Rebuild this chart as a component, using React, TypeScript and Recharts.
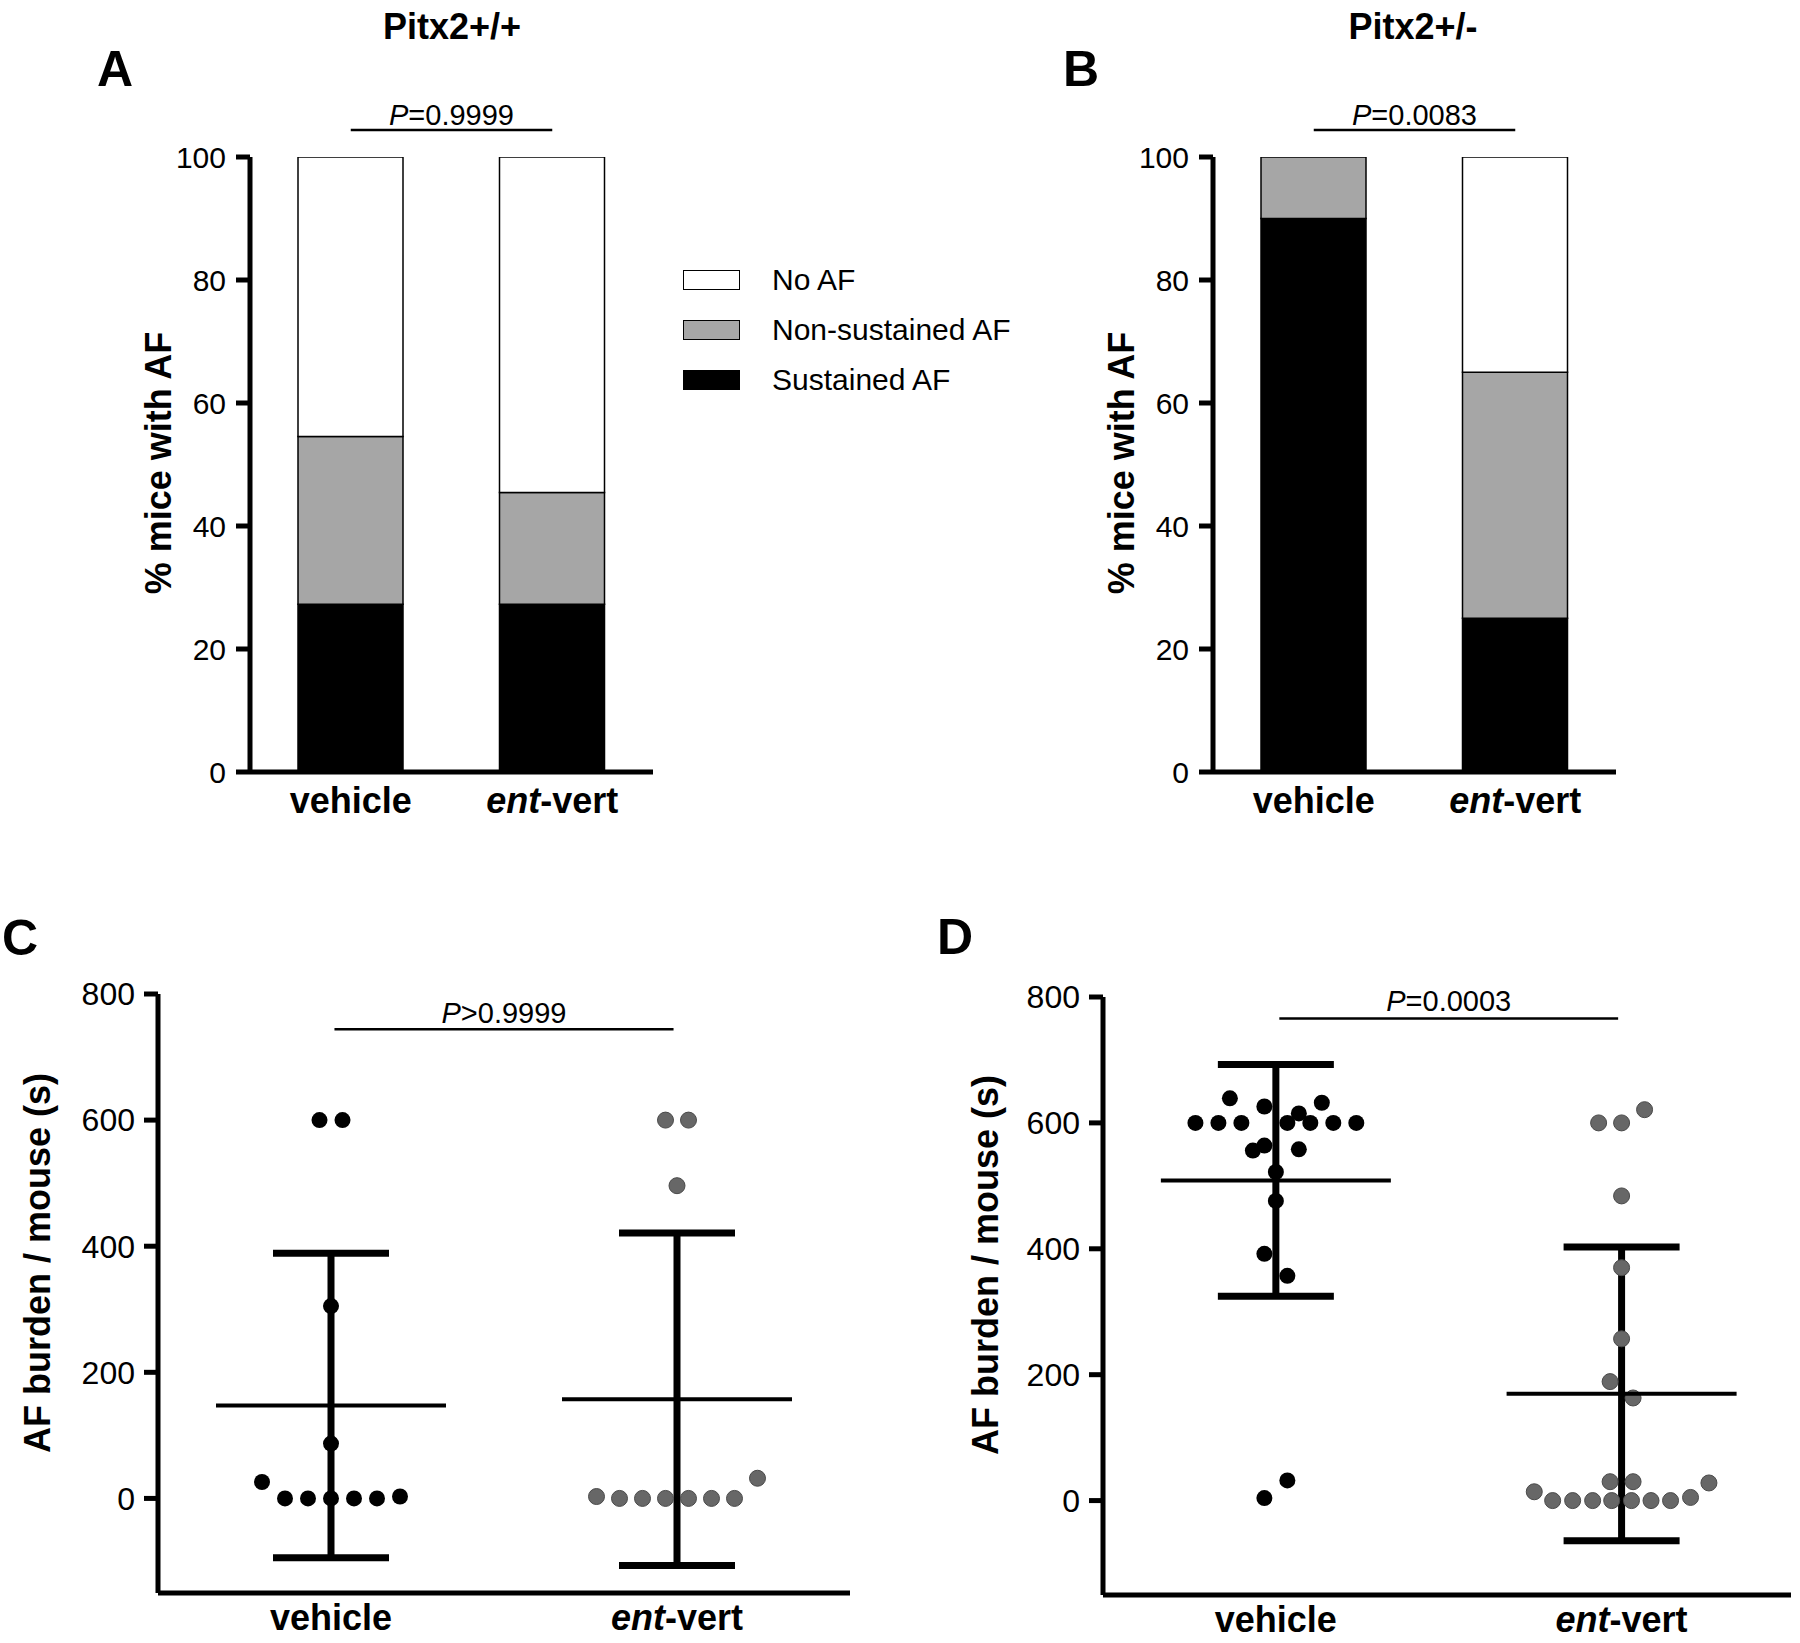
import React from "react";
import {
  BarChart,
  Bar,
  XAxis,
  YAxis,
  Legend,
  ReferenceLine,
  ScatterChart,
  Scatter,
  ErrorBar,
} from "recharts";

const FONT = '"Liberation Sans", Arial, Helvetica, sans-serif';

// categories
const groups = ["vehicle", "ent-vert"];
const groupItalic = ["", "ent"];
const groupRest = ["vehicle", "-vert"];

// A / B — % mice with AF, per category (bottom to top of the stack)
const afKeys = ["sustained", "nonSustained", "noAF"];
const afNames = ["Sustained AF", "Non-sustained AF", "No AF"];
const afColors = ["#000000", "#a6a6a6", "#ffffff"];

const sustainedWT = [27.27, 27.27];
const nonSustainedWT = [27.27, 18.18];
const noAfWT = [45.46, 54.55];

const sustainedHet = [90, 25];
const nonSustainedHet = [10, 40];
const noAfHet = [0, 35];

const pctTicks = [0, 20, 40, 60, 80, 100];
const burdenTicks = [0, 200, 400, 600, 800];

// C — Pitx2+/+ AF burden (s) and column-scatter slot of each dot
const wtVehicle = [600, 600, 305, 87, 26, 0, 0, 0, 0, 0, 3];
const wtVehicleSlot = [-0.5, 0.5, 0, 0, -3, -2, -1, 0, 1, 2, 3];
const wtEnt = [600, 600, 496, 3, 0, 0, 0, 0, 0, 0, 32];
const wtEntSlot = [-0.5, 0.5, 0, -3.5, -2.5, -1.5, -0.5, 0.5, 1.5, 2.5, 3.5];

// D — Pitx2+/- AF burden (s)
const hetVehicle = [639, 626, 632, 600, 600, 600, 600, 600, 600, 600, 615, 556, 564, 558, 522, 476, 392, 357, 32, 4];
const hetVehicleSlot = [-2, -0.5, 2, -3.5, -2.5, -1.5, 0.5, 1.5, 2.5, 3.5, 1, -1, -0.5, 1, 0, 0, -0.5, 0.5, 0.5, -0.5];
const hetEnt = [600, 600, 621, 484, 370, 257, 189, 163, 30, 30, 28, 14, 5, 0, 0, 0, 0, 0, 0, 0];
const hetEntSlot = [-1, 0, 1, 0, 0, 0, -0.5, 0.5, -0.5, 0.5, 3.8, -3.8, 3, -3, -2.13, -1.26, -0.43, 0.43, 1.28, 2.13];

const STEP = 23 / 346; // one dot slot in x-axis units
const DOT_R = 8;
const MEAN_HALF = 115;

const mean = (v: number[]) => v.reduce((a, b) => a + b, 0) / v.length;
const sd = (v: number[]) => {
  const m = mean(v);
  return Math.sqrt(v.reduce((a, b) => a + (b - m) ** 2, 0) / (v.length - 1));
};

const stackRows = (s: number[], n: number[], no: number[]) =>
  groups.map((g, i) => ({ group: g, sustained: s[i], nonSustained: n[i], noAF: no[i] }));

const dotRows = (vals: number[], slots: number[], g: number) =>
  vals.map((v, i) => ({ x: g + slots[i] * STEP, y: v }));

const summaryRows = (a: number[], b: number[]) =>
  [a, b].map((v, i) => ({ x: i, y: mean(v), err: sd(v) }));

const axisStyle = { stroke: "#000", strokeWidth: 5 };

function GroupTick(props: any) {
  const { x, y, payload, dy } = props;
  const idx = typeof payload.value === "number" ? payload.value : groups.indexOf(payload.value);
  return (
    <text x={x} y={y + dy} textAnchor="middle" fontFamily={FONT} fontSize={36} fontWeight="bold" fill="#000">
      {groupItalic[idx] ? <tspan fontStyle="italic">{groupItalic[idx]}</tspan> : null}
      {groupRest[idx]}
    </text>
  );
}

const pLabel = (text: string, gap: number) => (props: any) => {
  const vb = props.viewBox;
  return (
    <text x={vb.x + vb.width / 2} y={vb.y - gap} textAnchor="middle" fontFamily={FONT} fontSize={29} fill="#000">
      <tspan fontStyle="italic">P</tspan>
      {text}
    </text>
  );
};

function AfLegend() {
  const order = [2, 1, 0];
  return (
    <div style={{ fontFamily: FONT, width: 360 }}>
      {order.map((i) => (
        <div key={afKeys[i]} style={{ display: "flex", alignItems: "center", height: 50, whiteSpace: "nowrap" }}>
          <div
            style={{
              width: 57,
              height: 20,
              flex: "0 0 57px",
              boxSizing: "border-box",
              border: "1.5px solid #000",
              background: afColors[i],
            }}
          />
          <span style={{ marginLeft: 32, fontSize: 30, lineHeight: "30px", color: "#000" }}>{afNames[i]}</span>
        </div>
      ))}
    </div>
  );
}

function StackedPanel({ rows, margin, pText, showLegend }: any) {
  return (
    <BarChart width={900} height={860} data={rows} margin={margin}>
      <XAxis
        dataKey="group"
        height={60}
        axisLine={axisStyle}
        tickLine={false}
        tickSize={0}
        tickMargin={0}
        interval={0}
        tick={(p: any) => <GroupTick {...p} dy={41} />}
      />
      <YAxis
        width={100}
        domain={[0, 100]}
        ticks={pctTicks}
        allowDataOverflow
        axisLine={axisStyle}
        tickLine={axisStyle}
        tickSize={14}
        tickMargin={10}
        tick={{ fill: "#000", fontSize: 30, fontFamily: FONT }}
      />
      {afKeys.map((k, i) => (
        <Bar
          key={k}
          dataKey={k}
          stackId="af"
          fill={afColors[i]}
          stroke="#000"
          strokeWidth={1.5}
          barSize={105}
          isAnimationActive={false}
        />
      ))}
      <ReferenceLine
        segment={[
          { x: groups[0], y: 104.4 },
          { x: groups[1], y: 104.4 },
        ]}
        stroke="#000"
        strokeWidth={2.5}
        ifOverflow="visible"
        label={pLabel(pText, 5)}
      />
      {showLegend && (
        <Legend
          layout="vertical"
          align="center"
          verticalAlign="middle"
          wrapperStyle={{ left: 683, top: 255, width: 360 }}
          content={() => <AfLegend />}
        />
      )}
    </BarChart>
  );
}

function BurdenPanel({ a, aSlot, b, bSlot, margin, xMax, pText, pY, pGap }: any) {
  return (
    <ScatterChart width={900} height={763} margin={margin}>
      <XAxis
        type="number"
        dataKey="x"
        domain={[-0.5, xMax]}
        ticks={[0, 1]}
        allowDataOverflow
        height={45}
        axisLine={axisStyle}
        tickLine={false}
        tickSize={0}
        tickMargin={0}
        interval={0}
        tick={(p: any) => <GroupTick {...p} dy={37} />}
      />
      <YAxis
        type="number"
        dataKey="y"
        width={80}
        domain={[-150, 800]}
        ticks={burdenTicks}
        allowDataOverflow
        axisLine={axisStyle}
        tickLine={axisStyle}
        tickSize={14}
        tickMargin={9}
        tick={{ fill: "#000", fontSize: 32, fontFamily: FONT }}
      />
      <Scatter
        data={dotRows(a, aSlot, 0)}
        isAnimationActive={false}
        shape={(p: any) => <circle cx={p.cx} cy={p.cy} r={DOT_R} fill="#000" />}
      />
      <Scatter
        data={dotRows(b, bSlot, 1)}
        isAnimationActive={false}
        shape={(p: any) => <circle cx={p.cx} cy={p.cy} r={DOT_R} fill="#676767" stroke="#4a4a4a" strokeWidth={1} />}
      />
      <Scatter
        data={summaryRows(a, b)}
        isAnimationActive={false}
        shape={(p: any) => (
          <line x1={p.cx - MEAN_HALF} x2={p.cx + MEAN_HALF} y1={p.cy} y2={p.cy} stroke="#000" strokeWidth={4} />
        )}
      >
        <ErrorBar dataKey="err" direction="y" width={58} stroke="#000" strokeWidth={7} isAnimationActive={false} />
      </Scatter>
      <ReferenceLine
        segment={[
          { x: 0.01, y: pY },
          { x: 0.99, y: pY },
        ]}
        stroke="#000"
        strokeWidth={2.5}
        ifOverflow="visible"
        label={pLabel(pText, pGap)}
      />
    </ScatterChart>
  );
}

export default function App() {
  const bold = { fontFamily: FONT, fontWeight: "bold" as const, fill: "#000" };
  return (
    <div style={{ position: "absolute", left: 0, top: 0, width: 1800, height: 1643, background: "#fff" }}>
      <div style={{ position: "absolute", left: 0, top: 0 }}>
        <StackedPanel
          rows={stackRows(sustainedWT, nonSustainedWT, noAfWT)}
          margin={{ top: 157, left: 150, right: 247, bottom: 28 }}
          pText="=0.9999"
          showLegend
        />
      </div>
      <div style={{ position: "absolute", left: 900, top: 0 }}>
        <StackedPanel
          rows={stackRows(sustainedHet, nonSustainedHet, noAfHet)}
          margin={{ top: 157, left: 213, right: 184, bottom: 28 }}
          pText="=0.0083"
        />
      </div>
      <div style={{ position: "absolute", left: 0, top: 880 }}>
        <BurdenPanel
          a={wtVehicle}
          aSlot={wtVehicleSlot}
          b={wtEnt}
          bSlot={wtEntSlot}
          margin={{ top: 114, left: 78, right: 50, bottom: 5 }}
          xMax={1.5}
          pText=">0.9999"
          pY={744}
          pGap={6}
        />
      </div>
      <div style={{ position: "absolute", left: 900, top: 880 }}>
        <BurdenPanel
          a={hetVehicle}
          aSlot={hetVehicleSlot}
          b={hetEnt}
          bSlot={hetEntSlot}
          margin={{ top: 117, left: 123, right: 9, bottom: 3 }}
          xMax={1.49}
          pText="=0.0003"
          pY={766}
          pGap={7}
        />
      </div>
      <svg
        width={1800}
        height={1643}
        style={{ position: "absolute", left: 0, top: 0, pointerEvents: "none" }}
      >
        <text x={97} y={86} fontSize={50} {...bold}>A</text>
        <text x={1063} y={86} fontSize={50} {...bold}>B</text>
        <text x={2} y={955} fontSize={50} {...bold}>C</text>
        <text x={937} y={954} fontSize={50} {...bold}>D</text>
        <text x={452} y={39} fontSize={36} textAnchor="middle" {...bold}>Pitx2+/+</text>
        <text x={1413} y={39} fontSize={36} textAnchor="middle" {...bold}>Pitx2+/-</text>
        <text x={171} y={463} fontSize={36} textAnchor="middle" transform="rotate(-90 171 463)" {...bold}>
          % mice with AF
        </text>
        <text x={1134} y={463} fontSize={36} textAnchor="middle" transform="rotate(-90 1134 463)" {...bold}>
          % mice with AF
        </text>
        <text x={50} y={1263} fontSize={36} textAnchor="middle" transform="rotate(-90 50 1263)" {...bold}>
          AF burden / mouse (s)
        </text>
        <text x={998} y={1265} fontSize={36} textAnchor="middle" transform="rotate(-90 998 1265)" {...bold}>
          AF burden / mouse (s)
        </text>
      </svg>
    </div>
  );
}
